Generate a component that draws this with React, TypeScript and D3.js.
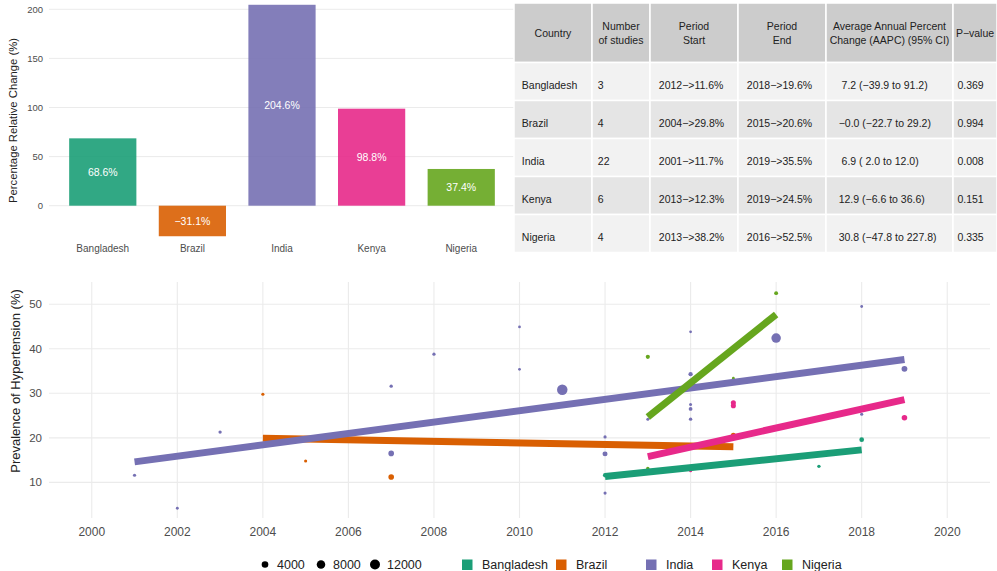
import React from 'react';
import * as d3 from 'd3';

const countries = ['Bangladesh', 'Brazil', 'India', 'Kenya', 'Nigeria'];
const colors = ['#1b9e77', '#d95f02', '#7570b3', '#e7298a', '#66a61e'];

// Top-left bar chart
const relChange = [68.6, -31.1, 204.6, 98.8, 37.4];
const relLabels = ['68.6%', '\u221231.1%', '204.6%', '98.8%', '37.4%'];
const barTicks = [0, 50, 100, 150, 200];

// Table
const tableHeader = [
  ['Country'],
  ['Number', 'of studies'],
  ['Period', 'Start'],
  ['Period', 'End'],
  ['Average Annual Percent', 'Change (AAPC) (95% CI)'],
  ['P\u2212value'],
];
const nStudies = ['3', '4', '22', '6', '4'];
const periodStart = ['2012\u2212>11.6%', '2004\u2212>29.8%', '2001\u2212>11.7%', '2013\u2212>12.3%', '2013\u2212>38.2%'];
const periodEnd = ['2018\u2212>19.6%', '2015\u2212>20.6%', '2019\u2212>35.5%', '2019\u2212>24.5%', '2016\u2212>52.5%'];
const aapc = [
  ' 7.2 (\u221239.9 to 91.2)',
  '\u22120.0 (\u221222.7 to 29.2)',
  ' 6.9 ( 2.0 to 12.0)',
  '12.9 (\u22126.6 to 36.6)',
  '30.8 (\u221247.8 to 227.8)',
];
const pValues = ['0.369', '0.994', '0.008', '0.151', '0.335'];

// Bottom scatter: one entry per study
const ptCountry = [
  'India', 'India', 'India', 'India', 'India', 'India', 'India', 'India', 'India', 'India', 'India',
  'India', 'India', 'India', 'India', 'India', 'India', 'India', 'India', 'India', 'India', 'India',
  'Brazil', 'Brazil', 'Brazil', 'Brazil',
  'Bangladesh', 'Bangladesh', 'Bangladesh',
  'Kenya', 'Kenya', 'Kenya', 'Kenya', 'Kenya',
  'Nigeria', 'Nigeria', 'Nigeria', 'Nigeria',
];
const ptYear = [
  2001, 2002, 2003, 2007, 2007, 2008, 2010, 2010, 2011, 2012, 2012,
  2012, 2013, 2014, 2014, 2014, 2014, 2014, 2016, 2018, 2018, 2019,
  2004, 2005, 2007, 2015,
  2012, 2017, 2018,
  2013, 2014, 2015, 2015, 2019,
  2013, 2013, 2015, 2016,
];
const ptPrev = [
  11.6, 4.2, 21.3, 31.6, 16.5, 38.8, 44.9, 35.4, 30.8, 20.2, 16.4,
  7.6, 24.2, 43.8, 34.3, 27.5, 26.5, 24.2, 42.4, 49.5, 25.3, 35.5,
  29.8, 14.8, 11.2, 20.6,
  11.6, 13.6, 19.6,
  12.3, 12.6, 27.9, 27.2, 24.5,
  38.2, 13.1, 33.4, 52.5,
];
const ptN = [
  300, 150, 350, 350, 2500, 300, 120, 120, 13500, 300, 1700,
  250, 200, 120, 1000, 200, 600, 400, 10500, 120, 250, 2800,
  250, 250, 2500, 1800,
  1000, 400, 1400,
  300, 250, 1800, 1800, 2400,
  900, 400, 120, 700,
];

// Fitted trend lines (per country)
const trendStartYear = [2012, 2004, 2001, 2013, 2013];
const trendEndYear = [2018, 2015, 2019, 2019, 2016];
const trendStartVal = [11.3, 19.9, 14.6, 15.8, 24.7];
const trendEndVal = [17.3, 18.0, 37.6, 28.6, 47.7];

const yearTicks = [2000, 2002, 2004, 2006, 2008, 2010, 2012, 2014, 2016, 2018, 2020];
const prevTicks = [10, 20, 30, 40, 50];
const sizeBreaks = [4000, 8000, 12000];

const FONT = '"Liberation Sans", Arial, Helvetica, sans-serif';
const GRID = '#ebebeb';
const TICK = '#4d4d4d';

export default function App() {
  // ---- Bar chart
  const xb = d3.scaleBand<string>().domain(countries).range([49, 515]).paddingInner(0.25).paddingOuter(0.225);
  const yb = d3.scaleLinear().domain([0, 200]).range([205.7, 9.3]);

  // ---- Table layout
  const colEdges = [514, 592, 650, 738, 826, 953, 997];
  const rowEdges = [3, 62.5, 100.5, 138.5, 176.5, 214.5, 252.5];
  const bodyCols = [countries, nStudies, periodStart, periodEnd, aapc, pValues];

  // ---- Scatter
  const xs = d3.scaleLinear().domain([1999, 2021]).range([49, 990]);
  const ys = d3.scaleLinear().domain([2, 55]).range([518, 282]);
  const rs = d3.scaleSqrt().domain([100, 14000]).range([1.35, 5.32]);
  const colorOf = d3.scaleOrdinal<string, string>().domain(countries).range(colors);
  const line = d3.line<[number, number]>().x((d) => xs(d[0])).y((d) => ys(d[1]));

  const sizeLegendX = [265, 321, 375];
  const colorLegendX = [462, 556, 646, 712, 782];

  return (
    <svg width={997} height={571} style={{ display: 'block', position: 'absolute', left: 0, top: 0, background: '#fff' }} fontFamily={FONT}>
      <rect width={997} height={571} fill="#fff" />
      {/* ===== Bar chart ===== */}
      <g>
        {barTicks.map((t) => (
          <g key={'bt' + t}>
            <line x1={49} x2={514} y1={yb(t)} y2={yb(t)} stroke={GRID} strokeWidth={1} />
            <text x={43} y={yb(t)} dy="0.35em" textAnchor="end" fontSize={9.5} fill={TICK}>{t}</text>
          </g>
        ))}
        {countries.map((c, i) => {
          const v = relChange[i];
          const y0 = yb(Math.max(0, v));
          const y1 = yb(Math.min(0, v));
          return (
            <g key={'bar' + c}>
              <rect x={xb(c)} y={y0} width={xb.bandwidth()} height={y1 - y0} fill={colors[i]} fillOpacity={0.9} />
              <text x={(xb(c) as number) + xb.bandwidth() / 2} y={yb(v / 2)} dy="0.35em" textAnchor="middle" fontSize={10.5} fill="#fff">{relLabels[i]}</text>
              <text x={(xb(c) as number) + xb.bandwidth() / 2} y={252} textAnchor="middle" fontSize={10} fill={TICK}>{c}</text>
            </g>
          );
        })}
        <text transform={`translate(17.3,120.5) rotate(-90)`} textAnchor="middle" fontSize={11.3} fill="#222">Percentage Relative Change (%)</text>
      </g>

      {/* ===== Table ===== */}
      <g fontSize={10.5} fill="#222">
        {rowEdges.slice(0, -1).map((ry, ri) =>
          colEdges.slice(0, -1).map((cx, ci) => (
            <rect key={`c${ri}-${ci}`} x={cx} y={ry} width={colEdges[ci + 1] - cx} height={rowEdges[ri + 1] - ry}
              fill={ri === 0 ? '#cccccc' : ri % 2 === 1 ? '#f2f2f2' : '#e5e5e5'} stroke="#fff" strokeWidth={1.5} />
          ))
        )}
        {tableHeader.map((lines, ci) => {
          const cx = (colEdges[ci] + colEdges[ci + 1]) / 2;
          const cy = (rowEdges[0] + rowEdges[1]) / 2 + 0.5;
          const lh = 14.5;
          return lines.map((l, li) => (
            <text key={`h${ci}-${li}`} x={cx} y={cy + (li - (lines.length - 1) / 2) * lh} dy="0.35em" textAnchor="middle">{l}</text>
          ));
        })}
        {bodyCols.map((col, ci) =>
          col.map((val, ri) => {
            const w = colEdges[ci + 1] - colEdges[ci];
            const x = colEdges[ci] + 0.1 * w;
            const y = (rowEdges[ri + 1] + rowEdges[ri + 2]) / 2 + 4;
            return (
              <text key={`b${ci}-${ri}`} x={x} y={y} dy="0.35em" style={{ whiteSpace: 'pre' }}>{val}</text>
            );
          })
        )}
      </g>

      {/* ===== Scatter ===== */}
      <g>
        {prevTicks.map((t) => (
          <g key={'pt' + t}>
            <line x1={49} x2={990} y1={ys(t)} y2={ys(t)} stroke={GRID} strokeWidth={1.1} />
            <text x={42} y={ys(t)} dy="0.35em" textAnchor="end" fontSize={11.5} fill={TICK}>{t}</text>
          </g>
        ))}
        {yearTicks.map((t) => (
          <g key={'yt' + t}>
            <line x1={xs(t)} x2={xs(t)} y1={282} y2={518} stroke={GRID} strokeWidth={1.1} />
            <text x={xs(t)} y={536} textAnchor="middle" fontSize={12} fill={TICK}>{t}</text>
          </g>
        ))}
        {ptYear.map((yr, i) => (
          <circle key={'p' + i} cx={xs(yr)} cy={ys(ptPrev[i])} r={rs(ptN[i])} fill={colorOf(ptCountry[i])} />
        ))}
        {countries.map((c, i) => (
          <path key={'tl' + c}
            d={line([[trendStartYear[i], trendStartVal[i]], [trendEndYear[i], trendEndVal[i]]]) as string}
            stroke={colors[i]} strokeWidth={7} fill="none" strokeLinecap="butt" />
        ))}
        <text transform={`translate(19.5,381) rotate(-90)`} textAnchor="middle" fontSize={13} fill="#222">Prevalence of Hypertension (%)</text>
      </g>

      {/* ===== Legends ===== */}
      <g fontSize={12.5} fill="#222">
        {sizeBreaks.map((b, i) => (
          <g key={'sl' + b}>
            <circle cx={sizeLegendX[i]} cy={564.5} r={rs(b)} fill="#000" />
            <text x={sizeLegendX[i] + 12} y={568.5}>{b}</text>
          </g>
        ))}
        {countries.map((c, i) => (
          <g key={'cl' + c}>
            <rect x={colorLegendX[i]} y={559.5} width={10.5} height={10.5} fill={colors[i]} />
            <text x={colorLegendX[i] + 20} y={568.5}>{c}</text>
          </g>
        ))}
      </g>
    </svg>
  );
}
